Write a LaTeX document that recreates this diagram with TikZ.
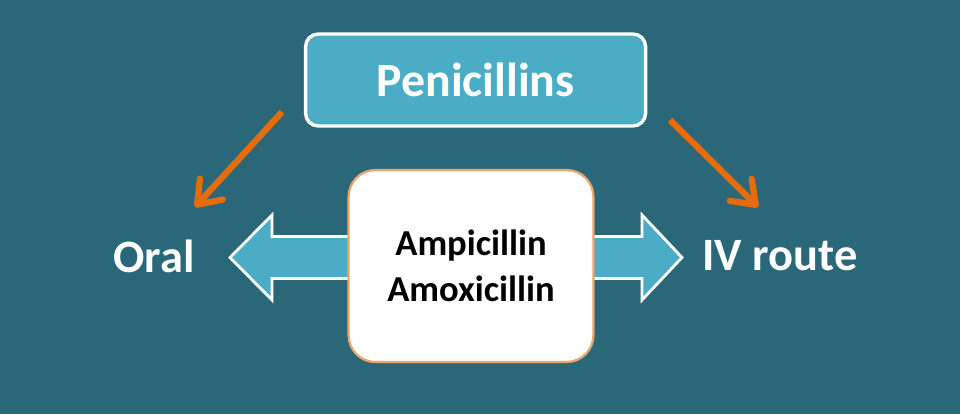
\documentclass[tikz,border=0pt]{standalone}
\usepackage{fontspec}
\setmainfont{Carlito}
\usetikzlibrary{arrows.meta}
\definecolor{slidebg}{HTML}{2A6779}
\definecolor{tealbox}{HTML}{4BACC6}
\definecolor{orangeline}{HTML}{E46C0A}
\definecolor{tanline}{HTML}{E8A56C}
\begin{document}
\begin{tikzpicture}[font=\bfseries,
    headbox/.style={fill=tealbox, draw=white, line width=2.4pt, rounded corners=9pt,
      minimum width=8.5cm, minimum height=2.3cm, text=white, font=\bfseries\fontsize{34}{40}\selectfont},
    drugbox/.style={fill=white, draw=tanline, line width=1.6pt, rounded corners=19pt,
      minimum width=6.12cm, minimum height=4.8cm, align=center, font=\bfseries\fontsize{26}{33}\selectfont},
    routelabel/.style={text=white, font=\bfseries\fontsize{33}{38}\selectfont},
    orangearrow/.style={draw=orangeline, line width=4.5pt,
      -{Straight Barb[length=15pt, width=22pt, round]}}]
  % background, 960 x 414 px at 0.025 cm per px
  \fill[slidebg] (0,0) rectangle (24,10.35);
  \useasboundingbox (0,0) rectangle (24,10.35);
  % double arrow behind the drug box
  \draw[fill=tealbox, draw=white, line width=2pt, line join=miter]
    (5.75,3.9125) -- (6.8,4.975) -- (6.8,4.4375) -- (16.05,4.4375) -- (16.05,4.975)
    -- (17.05,3.9125) -- (16.05,2.85) -- (16.05,3.3875) -- (6.8,3.3875) -- (6.8,2.85) -- cycle;
  % nodes
  \node[headbox] (pen) at (11.89,8.35) {Penicillins};
  \node[drugbox] (drugs) at (11.775,3.7) {Ampicillin\\Amoxicillin};
  \node[routelabel] (oral) at (3.85,3.95) {Oral};
  \node[routelabel] (iv) at (19.5,3.95) {IV route};
  % orange connectors
  \coordinate (lfrom) at (7.05,7.55);
  \coordinate (lto) at (4.875,5.175);
  \coordinate (rfrom) at (16.75,7.35);
  \coordinate (rto) at (18.95,5.175);
  \draw[orangearrow] (lfrom) -- (lto);
  \draw[orangearrow] (rfrom) -- (rto);
\end{tikzpicture}
\end{document}
